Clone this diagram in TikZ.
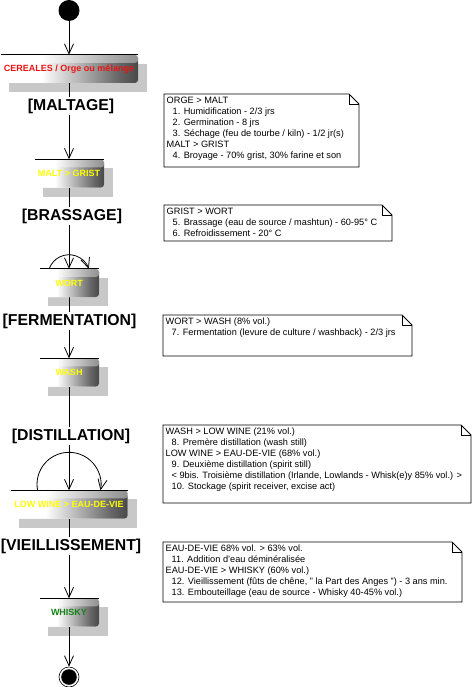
\documentclass[tikz,border=0pt]{standalone}
\usepackage{fontspec}
\setmainfont{Liberation Sans}
\usetikzlibrary{arrows.meta}
\pgfdeclarelayer{shd}
\pgfdeclarelayer{lines}
\pgfdeclarelayer{fg}
\pgfdeclarelayer{top}
\pgfsetlayers{shd,lines,main,fg,top}
\pgfdeclarehorizontalshading{actshade}{100bp}{color(0bp)=(white); color(40bp)=(white); color(68bp)=(black!60); color(92bp)=(black); color(100bp)=(black)}
\definecolor{actred}{RGB}{235,20,20}
\definecolor{actyellow}{RGB}{255,255,0}
\definecolor{actgreen}{RGB}{20,130,20}
\definecolor{shadowgray}{RGB}{200,200,200}
\newcommand\NoteFrame[4]{%
  \draw[notebd] (#1,#2) -- ({#3-10},#2) -- (#3,{#2-10}) -- (#3,#4) -- (#1,#4) -- cycle;
  \draw[notebd] ({#3-10},#2) -- ({#3-10},{#2-10}) -- (#3,{#2-10});}
\newcommand\ind{\hspace*{6pt}}
\newcommand\ActDeco[1]{%
  \begin{pgfonlayer}{shd}
  \fill[shadowgray] ([shift={(9pt,-9pt)}]#1.south west) rectangle ([shift={(9pt,-9pt)}]#1.north east);
  \end{pgfonlayer}
  \begin{pgfonlayer}{top}
  \fill[white, fill opacity=0.4, rounded corners=3pt] (#1.north west) -- (#1.north east) -- ([yshift=-8pt]#1.north east) -- ([yshift=-8pt]#1.north west) -- cycle;
  \draw[line width=0.8pt] ([xshift=1pt]#1.north west) -- (#1.north east);
  \end{pgfonlayer}}
\begin{document}
\begin{tikzpicture}[x=1pt,y=1pt,
  act/.style={preaction={fill=white}, shade, shading=actshade, rounded corners=3pt,
     minimum height=28pt, minimum width=60pt, inner xsep=4pt, inner ysep=0pt,
     font=\fontsize{9}{11}\selectfont\bfseries},
  phase/.style={fill=white, inner sep=2pt, font=\fontsize{15.8}{18}\selectfont\bfseries},
  flow/.style={line width=0.8pt, -{Straight Barb[length=10pt,width=9pt,line width=0.8pt]}},
  notebd/.style={line width=0.8pt, line join=miter},
  notetx/.style={anchor=north west, inner sep=0pt, align=left, font=\fontsize{9.2}{10.9}\selectfont},
]
\useasboundingbox (0,0) rectangle (475,-687);

% activity nodes
\begin{pgfonlayer}{fg}
\node[circle, fill=black, minimum size=21pt, inner sep=0pt] (start) at (69,-10.5) {};
\node[act, text=actred] (cereales) at (69,-69) {CEREALES / Orge ou mélange};
\node[act, text=actyellow] (malt) at (69,-173.5) {MALT > GRIST};
\node[act, text=actyellow] (wort) at (69,-283) {WORT};
\node[act, text=actyellow] (wash) at (69,-372.5) {WASH};
\node[act, text=actyellow] (lowwine) at (69,-504.5) {LOW WINE > EAU-DE-VIE};
\node[act, text=actgreen] (whisky) at (69,-612.5) {WHISKY};
\node[circle, draw=black, line width=0.6pt, minimum size=20pt, inner sep=0pt,
  path picture={\fill[black] (path picture bounding box.center) circle[radius=7.8pt];}] (end) at (69,-677) {};
% phase labels
\node[phase] (ph1) at (71,-106) {[MALTAGE]};
\node[phase] (ph2) at (72,-216) {[BRASSAGE]};
\node[phase] (ph3) at (69.5,-321) {[FERMENTATION]};
\node[phase] (ph4) at (71,-436) {[DISTILLATION]};
\node[phase] (ph5) at (71,-546) {[VIEILLISSEMENT]};
\end{pgfonlayer}

\ActDeco{cereales}
\ActDeco{malt}
\ActDeco{wort}
\ActDeco{wash}
\ActDeco{lowwine}
\ActDeco{whisky}

% connectors
\begin{pgfonlayer}{lines}
\draw[flow] (start.south) -- (cereales.north);
\draw[flow] (cereales.south) -- (malt.north);
\draw[flow] (malt.south) -- (wort.north);
\draw[flow] (wort.south) -- (wash.north);
\draw[flow] (wash.south) -- (lowwine.north);
\draw[flow] (lowwine.south) -- (whisky.north);
\draw[flow] (whisky.south) -- (end.north);
\draw[flow] ([xshift=-19.8pt]wort.north) arc[start angle=160.7, end angle=19.3, radius=21pt];
\draw[flow] ([xshift=-31.4pt]lowwine.north) arc[start angle=190.8, end angle=-10.8, radius=32pt];
\end{pgfonlayer}

% notes
\NoteFrame{164}{-94}{359}{-167}
\node[notetx] (t1) at (166.5,-97) {ORGE > MALT\\
\ind 1. Humidification - 2/3 jrs\\
\ind 2. Germination - 8 jrs\\
\ind 3. Séchage (feu de tourbe / kiln) - 1/2 jr(s)\\
MALT > GRIST\\
\ind 4. Broyage - 70\% grist, 30\% farine et son};

\NoteFrame{164}{-205}{392}{-241}
\node[notetx] (t2) at (166.5,-208) {GRIST > WORT\\
\ind 5. Brassage (eau de source / mashtun) - 60-95° C\\
\ind 6. Refroidissement - 20° C};

\NoteFrame{163}{-315}{412}{-356}
\node[notetx] (t3) at (165.5,-318) {WORT > WASH (8\% vol.)\\
\ind 7. Fermentation (levure de culture / washback) - 2/3 jrs};

\NoteFrame{163}{-425}{471}{-503}
\node[notetx] (t4) at (165.5,-428) {WASH > LOW WINE (21\% vol.)\\
\ind 8. Premère distillation (wash still)\\
LOW WINE > EAU-DE-VIE (68\% vol.)\\
\ind 9. Deuxième distillation (spirit still)\\
\ind < 9bis. Troisième distillation (Irlande, Lowlands - Whisk(e)y 85\% vol.) >\\
\ind 10. Stockage (spirit receiver, excise act)};

\NoteFrame{163}{-542}{462}{-602}
\node[notetx] (t5) at (165.5,-545) {EAU-DE-VIE 68\% vol. > 63\% vol.\\
\ind 11. Addition d'eau déminéralisée\\
EAU-DE-VIE > WHISKY (60\% vol.)\\
\ind 12. Vieillissement (fûts de chêne, " la Part des Anges ") - 3 ans min.\\
\ind 13. Embouteillage (eau de source - Whisky 40-45\% vol.)};
\end{tikzpicture}
\end{document}
